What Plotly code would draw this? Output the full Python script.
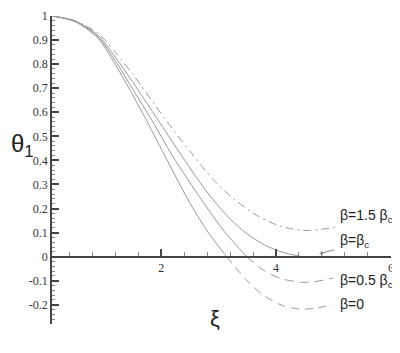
import plotly.graph_objects as go

# readings of theta_1 against xi for each beta case
xi_b0 = [0.1, 0.5, 0.9, 1.2, 1.47, 1.75, 2.1, 2.47, 2.8, 3.14, 3.5, 3.78, 4.1, 4.41, 4.7, 4.99]
th_b0 = [1.0, 0.976, 0.908, 0.80, 0.687, 0.564, 0.403, 0.236, 0.107, 0.0, -0.101, -0.160, -0.202, -0.218, -0.214, -0.199]

xi_b05 = [0.1, 0.5, 0.9, 1.2, 1.5, 1.84, 2.2, 2.71, 3.1, 3.49, 3.8, 4.1, 4.47, 4.75, 4.99]
th_b05 = [1.0, 0.978, 0.914, 0.815, 0.698, 0.566, 0.418, 0.234, 0.105, 0.0, -0.059, -0.092, -0.107, -0.101, -0.089]

xi_b1 = [0.1, 0.5, 0.9, 1.2, 1.5, 1.95, 2.3, 2.65, 2.91, 3.2, 3.5, 3.8, 4.1, 4.45]
th_b1 = [1.0, 0.98, 0.92, 0.83, 0.728, 0.566, 0.44, 0.317, 0.235, 0.157, 0.094, 0.049, 0.019, 0.0]

xi_b15 = [0.1, 0.5, 0.9, 1.2, 1.5, 2.09, 2.5, 2.91, 3.29, 3.66, 4.07, 4.47, 4.75, 5.05]
th_b15 = [1.0, 0.98, 0.928, 0.85, 0.76, 0.565, 0.438, 0.319, 0.235, 0.172, 0.127, 0.109, 0.112, 0.124]

y_tickvals = [1, 0.9, 0.8, 0.7, 0.6, 0.5, 0.4, 0.3, 0.2, 0.1, 0, -0.1, -0.2]
y_ticktext = ["1", "0.9", "0.8", "0.7", "0.6", "0.5", "0.4", "0.3", "0.2", "0.1", "0", "-0.1", "-0.2"]
x_tickvals = [2, 4, 6]
x_ticktext = ["2", "4", "6"]

CURVE = "#9a9a9a"
AXIS = "#444444"
X_RANGE = [0.1, 6.002]
Y_RANGE = [-0.28, 1.0]


def split_sign(xs, ys):
    pos = [(x, y) for x, y in zip(xs, ys) if y >= 0]
    neg = [(x, y) for x, y in zip(xs, ys) if y <= 0]
    return list(zip(*pos)), list(zip(*neg))


def line(xs, ys, dash):
    return go.Scatter(
        x=list(xs), y=list(ys), mode="lines", hoverinfo="skip", showlegend=False,
        line=dict(color=CURVE, width=1, dash=dash, shape="spline", smoothing=0.8),
    )


fig = go.Figure()

# beta = 0 and beta = 0.5 beta_c: solid above zero, dashed below
for xs, ys, dash in [(xi_b0, th_b0, "8px,6px"), (xi_b05, th_b05, "9px,6px")]:
    (px_, py_), (nx_, ny_) = split_sign(xs, ys)
    fig.add_trace(line(px_, py_, "solid"))
    fig.add_trace(line(nx_, ny_, dash))

fig.add_trace(line(xi_b1, th_b1, "solid"))
fig.add_trace(line(xi_b15, th_b15, "8px,4px,2px,4px"))

label_font = dict(family="Liberation Sans, Arial, sans-serif", size=14, color="#222222")
labels = [
    ("β=1.5 β<sub>c</sub>", 0.17),
    ("β=β<sub>c</sub>", 0.065),
    ("β=0.5 β<sub>c</sub>", -0.1),
    ("β=0", -0.195),
]
for text, yv in labels:
    fig.add_annotation(x=5.08, y=yv, text=text, showarrow=False, xanchor="left",
                       yanchor="middle", font=label_font)

# short leader arrow from the beta_c label to its curve
fig.add_annotation(x=4.75, y=0.012, ax=5.04, ay=0.03, axref="x", ayref="y",
                   text="", showarrow=True, arrowcolor="#888888", arrowwidth=1,
                   arrowhead=2, arrowsize=0.8, standoff=0, startstandoff=0)

fig.add_annotation(xref="paper", yref="paper", x=-0.127, y=0.58, text="θ<sub>1</sub>",
                   xanchor="left", showarrow=False,
                   font=dict(family="Liberation Sans, Arial, sans-serif", size=24, color="#222222"))
fig.add_annotation(xref="paper", yref="paper", x=0.481, y=-0.03, text="ξ",
                   showarrow=False, font=dict(family="Liberation Sans, Arial, sans-serif",
                                              size=22, color="#222222"))

tick_font = dict(family="Liberation Serif, Times New Roman, serif", size=12, color="#333333")
y0_pos = (0 - Y_RANGE[0]) / (Y_RANGE[1] - Y_RANGE[0])

# page body keeps its 8px default margin, so the figure is 8px smaller each way
fig.update_layout(
    width=392, height=345,
    margin=dict(l=44, r=9, t=8, b=29, autoexpand=False),
    paper_bgcolor="white", plot_bgcolor="white",
    showlegend=False,
    xaxis=dict(
        range=X_RANGE, anchor="free", position=y0_pos, showgrid=False, zeroline=False,
        automargin=False,
        showline=True, linecolor=AXIS, linewidth=1.5,
        ticks="inside", ticklen=7, tickwidth=1.5, tickcolor=AXIS,
        tickvals=x_tickvals, ticktext=x_ticktext, tickfont=tick_font,
        minor=dict(ticks="inside", ticklen=4, tickwidth=1, tickcolor="#888888",
                   tick0=0, dtick=0.4, showgrid=False),
    ),
    yaxis=dict(
        range=Y_RANGE, showgrid=False, zeroline=False, automargin=False,
        showline=True, linecolor=AXIS, linewidth=1.5,
        ticks="inside", ticklen=7, tickwidth=1.5, tickcolor=AXIS,
        tickvals=y_tickvals, ticktext=y_ticktext, tickfont=tick_font,
        minor=dict(ticks="inside", ticklen=3, tickwidth=1, tickcolor="#888888",
                   tick0=0, dtick=0.02, showgrid=False),
    ),
)

fig.write_html("out.html")
